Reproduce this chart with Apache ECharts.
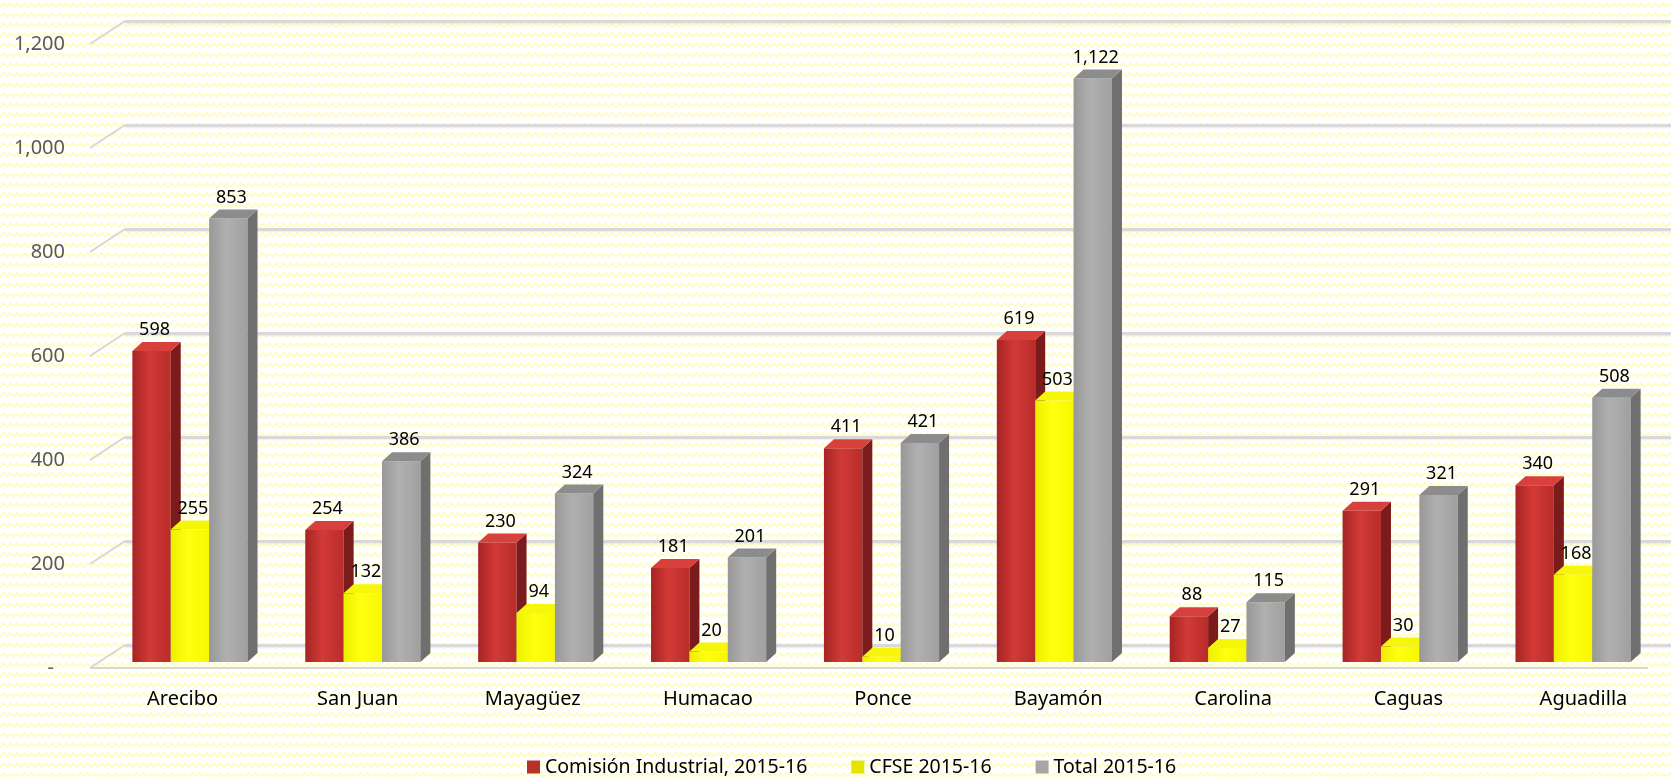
<!DOCTYPE html>
<html>
<head>
<meta charset="utf-8">
<title>Comisión Industrial vs CFSE 2015-16</title>
<script src="https://cdn.jsdelivr.net/npm/echarts@6/dist/echarts.min.js"></script>
<style>
  html, body { margin: 0; padding: 0; background: #fff; }
  #chart { width: 1671px; height: 777px; }
</style>
</head>
<body>
<div id="chart"></div>
<script>
// data
const regions = ['Arecibo', 'San Juan', 'Mayagüez', 'Humacao', 'Ponce', 'Bayamón', 'Carolina', 'Caguas', 'Aguadilla']
const comisionIndustrial = [598, 254, 230, 181, 411, 619, 88, 291, 340]
const cfse = [255, 132, 94, 20, 10, 503, 27, 30, 168]
const total = [853, 386, 324, 201, 421, 1122, 115, 321, 508]
const yTicks = [0, 200, 400, 600, 800, 1000, 1200]
const seriesNames = ['Comisión Industrial, 2015-16', 'CFSE 2015-16', 'Total 2015-16']

const FONT = 'Noto Sans'
const LG = echarts.graphic.LinearGradient

// front / side / top colours per series
const palette = [
  { front: ['#a52424', '#d23a36', '#b82c2a'], side: '#7c1b1b', top: '#d8403c', legend: '#b8302c' },
  { front: ['#eeee00', '#ffff10', '#f8f800'], side: '#c2c200', top: '#f6f60a', legend: '#e4e400' },
  { front: ['#989898', '#b0b0b0', '#a0a0a0'], side: '#6f6f6f', top: '#8c8c8c', legend: '#a6a6a6' }
]

// pale yellow zigzag wallpaper
function makePattern() {
  const c = document.createElement('canvas')
  c.width = 14
  c.height = 10
  const ctx = c.getContext('2d')
  ctx.fillStyle = '#ffffff'
  ctx.fillRect(0, 0, 14, 10)
  ctx.strokeStyle = '#fffcc0'
  ctx.lineWidth = 1.6
  ctx.beginPath()
  ctx.moveTo(0, 7)
  ctx.lineTo(3.5, 3)
  ctx.lineTo(7, 7)
  ctx.lineTo(10.5, 3)
  ctx.lineTo(14, 7)
  ctx.stroke()
  return c
}

function fmt(v) {
  return v.toString().replace(/\B(?=(\d{3})+(?!\d))/g, ',')
}

function barRender(k) {
  const col = palette[k]
  return function(params, api) {
    const cat = api.value(0)
    const val = api.value(1)
    const base = api.coord([cat, 0])
    const top = api.coord([cat, val])
    const band = api.size([1, 0])[0]
    const w = band * 0.222
    const x = base[0] + (k - 1.5) * w
    const y0 = base[1]
    const y1 = top[1]
    const dx = 10
    const dy = 9
    return {
      type: 'group',
      children: [
        {
          type: 'rect',
          shape: { x: x, y: y1, width: w, height: y0 - y1 },
          style: { fill: new LG(0, 0, 1, 0, [
            { offset: 0, color: col.front[0] },
            { offset: 0.45, color: col.front[1] },
            { offset: 1, color: col.front[2] }
          ]) }
        },
        {
          type: 'polygon',
          shape: { points: [[x + w, y1], [x + w + dx, y1 - dy], [x + w + dx, y0 - dy], [x + w, y0]] },
          style: { fill: col.side }
        },
        {
          type: 'polygon',
          shape: { points: [[x, y1], [x + dx, y1 - dy], [x + w + dx, y1 - dy], [x + w, y1]] },
          style: { fill: col.top }
        },
        {
          type: 'text',
          x: x + w / 2 + 3,
          y: y1 - dy - 3,
          style: {
            text: fmt(val),
            align: 'center',
            verticalAlign: 'bottom',
            fontSize: 18,
            fontFamily: FONT,
            fill: '#000'
          }
        }
      ]
    }
  }
}

const chart = echarts.init(document.getElementById('chart'), null, { renderer: 'canvas' })

const barData = [comisionIndustrial, cfse, total]

chart.setOption({
  backgroundColor: { image: makePattern(), repeat: 'repeat' },
  animation: false,
  textStyle: { fontFamily: FONT },
  grid: [
    // back wall (gridlines)
    { left: 125, right: 0, top: 21, bottom: 132 },
    // front plane (axis labels)
    { left: 95, width: 1580, top: 44, bottom: 109 },
    // bars
    { left: 103.5, width: 1556, top: 38, bottom: 115 }
  ],
  xAxis: [
    { type: 'category', gridIndex: 0, data: regions, show: false },
    {
      type: 'category', gridIndex: 1, data: regions,
      axisLine: { show: false }, axisTick: { show: false },
      axisLabel: { color: '#000', fontSize: 20, margin: 21, fontFamily: FONT }
    },
    { type: 'category', gridIndex: 2, data: regions, show: false }
  ],
  yAxis: [
    {
      type: 'value', gridIndex: 0, min: 0, max: 1200, interval: 200,
      axisLabel: { show: false }, axisLine: { show: false }, axisTick: { show: false },
      splitLine: {
        lineStyle: { color: '#d9d9d9', width: 3, shadowBlur: 2, shadowColor: 'rgba(0,0,0,0.08)', shadowOffsetY: 1 }
      }
    },
    {
      type: 'value', gridIndex: 1, min: 0, max: 1200, interval: 200,
      axisLine: { show: false }, axisTick: { show: false }, splitLine: { show: false },
      axisLabel: {
        color: '#595959', fontSize: 20, margin: 30, fontFamily: FONT,
        formatter: function(v) { return v === 0 ? '{z|-}' : fmt(v) },
        rich: { z: { color: '#595959', fontSize: 20, fontFamily: FONT, padding: [0, 11, 0, 0] } }
      }
    },
    { type: 'value', gridIndex: 2, min: 0, max: 1200, show: false }
  ],
  legend: {
    data: seriesNames,
    left: 522,
    top: 752,
    icon: 'rect',
    itemWidth: 13,
    itemHeight: 13,
    itemGap: 44,
    textStyle: { color: '#000', fontSize: 19.5, fontFamily: FONT }
  },
  series: [
    {
      // depth ticks on the left side + floor edge
      type: 'custom',
      xAxisIndex: 0,
      yAxisIndex: 0,
      silent: true,
      data: yTicks.map(v => [0, v]),
      encode: { x: 0, y: 1 },
      renderItem: function(params, api) {
        const y = api.coord([0, api.value(1)])[1]
        const x0 = params.coordSys.x
        const kids = [{
          type: 'line',
          shape: { x1: x0 - 35, y1: y + 23, x2: x0, y2: y },
          style: { stroke: '#d6d6d6', lineWidth: 2 }
        }]
        if (api.value(1) === 0) {
          kids.push({
            type: 'line',
            shape: { x1: x0 - 35, y1: y + 23, x2: x0 + params.coordSys.width - 23, y2: y + 23 },
            style: { stroke: '#d6d6d6', lineWidth: 2 }
          })
        }
        return { type: 'group', children: kids }
      },
      z: 1
    }
  ].concat(seriesNames.map((name, k) => ({
    name: name,
    type: 'custom',
    xAxisIndex: 2,
    yAxisIndex: 2,
    data: barData[k].map((v, i) => [i, v]),
    encode: { x: 0, y: 1 },
    itemStyle: { color: palette[k].legend },
    renderItem: barRender(k),
    z: 2 + k
  })))
})
</script>
</body>
</html>
